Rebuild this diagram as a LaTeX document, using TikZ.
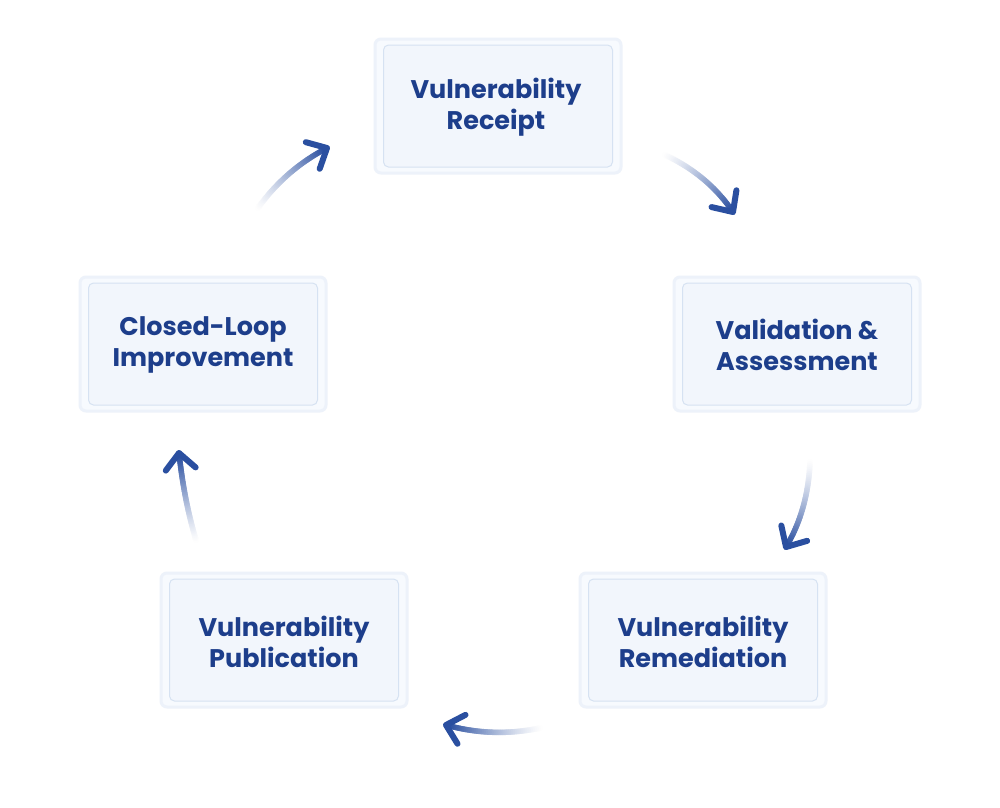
\documentclass[tikz,border=0pt]{standalone}
\usepackage{fontspec}
\setmainfont{Poppins}
\usetikzlibrary{calc}
\definecolor{txtblue}{HTML}{1D3E8B}
\definecolor{arrowblue}{HTML}{2A4FA0}
\definecolor{glow}{HTML}{EDF2FA}
\definecolor{outerfill}{HTML}{F7FAFE}
\definecolor{innerfill}{HTML}{F2F6FC}
\definecolor{innerline}{HTML}{D6E2F2}
\tikzset{
  outerbox/.style={draw=glow, line width=3pt, fill=outerfill, rounded corners=6pt, minimum width=246pt, minimum height=134pt, inner sep=0pt},
  innerbox/.style={draw=innerline, line width=1pt, fill=innerfill, rounded corners=5pt, minimum width=229pt, minimum height=122pt, inner sep=0pt},
  label/.style={font=\fontsize{25.5}{31}\selectfont\bfseries, text=txtblue, align=center, inner sep=0pt},
  arrowline/.style={line width=5.5pt, line cap=round},
  arrowtip/.style={draw=arrowblue, line width=6pt, line cap=round, line join=round}
}
\newcommand{\gradarc}[3]{%
  \foreach \i in {0,...,47}{%
    \pgfmathsetmacro{\ta}{\i/48}%
    \pgfmathsetmacro{\tb}{(\i+1)/48}%
    \pgfmathsetmacro{\pc}{100*(\tb^1.3)}%
    \draw[arrowline, color=arrowblue!\pc!white]
      ($($(#1)!\ta!(#2)$)!\ta!($(#2)!\ta!(#3)$)$) -- ($($(#1)!\tb!(#2)$)!\tb!($(#2)!\tb!(#3)$)$);
  }%
  \draw[arrowtip] ($(#3)!22pt!43:(#2)$) -- (#3) -- ($(#3)!22pt!-43:(#2)$);
}
\begin{document}
\begin{tikzpicture}[x=1pt,y=-1pt]
\useasboundingbox[fill=white] (0,0) rectangle (1000,807);
% boxes
\node[outerbox] (o1) at (498,106) {};
\node[innerbox] (i1) at (498,106) {};
\node[label] (receipt) at (496,107) {Vulnerability\\Receipt};
\node[outerbox] (o2) at (797,344) {};
\node[innerbox] (i2) at (797,344) {};
\node[label] (valid) at (797,345) {Validation \&\\Assessment};
\node[outerbox] (o3) at (703,640) {};
\node[innerbox] (i3) at (703,640) {};
\node[label] (remed) at (703,642) {Vulnerability\\Remediation};
\node[outerbox] (o4) at (284,640) {};
\node[innerbox] (i4) at (284,640) {};
\node[label] (pub) at (284,642) {Vulnerability\\Publication};
\node[outerbox] (o5) at (203,344) {};
\node[innerbox] (i5) at (203,344) {};
\node[label] (closed) at (203,345) {Closed-Loop\\Improvement};
% arrow coordinates
\coordinate (a1s) at (665,155); \coordinate (a1c) at (708,175); \coordinate (a1e) at (733,212);
\coordinate (a2s) at (810,462); \coordinate (a2c) at (808,510); \coordinate (a2e) at (786,547);
\coordinate (a3s) at (540,728); \coordinate (a3c) at (493,738); \coordinate (a3e) at (446,725);
\coordinate (a4s) at (196,540); \coordinate (a4c) at (184,500); \coordinate (a4e) at (179,453);
\coordinate (a5s) at (258,208); \coordinate (a5c) at (285,170); \coordinate (a5e) at (327,148);
\gradarc{a1s}{a1c}{a1e}
\gradarc{a2s}{a2c}{a2e}
\gradarc{a3s}{a3c}{a3e}
\gradarc{a4s}{a4c}{a4e}
\gradarc{a5s}{a5c}{a5e}
\end{tikzpicture}
\end{document}
